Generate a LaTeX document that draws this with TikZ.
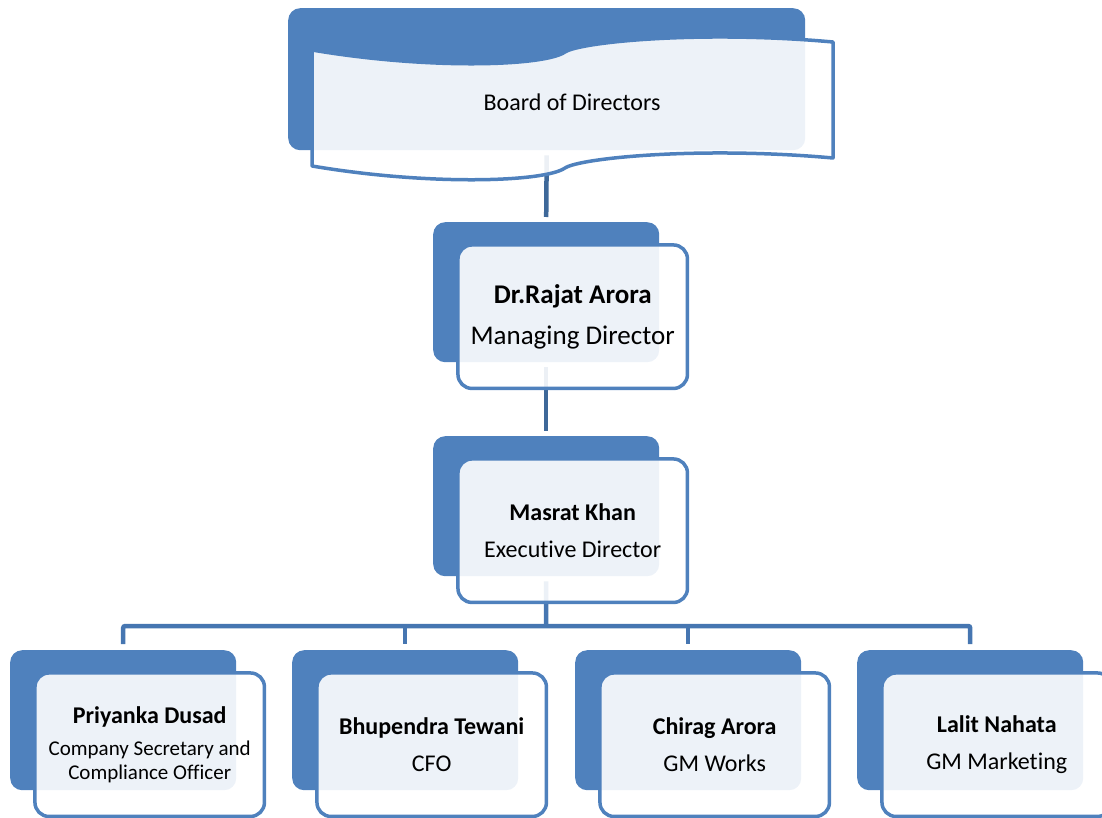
\documentclass[tikz,border=0pt]{standalone}
\usepackage{fontspec}
\setmainfont{Carlito}[Ligatures=CommonOff]
\newcommand{\nolig}{\kern0pt }
\definecolor{acc}{HTML}{4F81BD}
\definecolor{connA}{HTML}{3E6899}
\definecolor{connB}{HTML}{4676B1}
\tikzset{
  backbox/.style={rectangle, rounded corners=12pt, fill=acc, draw=none,
    minimum width=226pt, minimum height=140pt, inner sep=0pt, anchor=north west},
  frontbox/.style={rectangle, rounded corners=14pt, draw=acc, line width=3.5pt,
    fill=white, fill opacity=0.9, text opacity=1, text=black, align=center,
    minimum width=229.5pt, minimum height=143.5pt, inner sep=0pt},
  connv/.style={draw=connA, line width=4.5pt},
  connh/.style={draw=connB, line width=4.5pt},
  bigtxt/.style={font=\fontsize{27}{31}\selectfont},
  midtxt/.style={font=\fontsize{24}{28}\selectfont},
  smalltxt/.style={font=\fontsize{21}{24}\selectfont},
}
\begin{document}
\begin{tikzpicture}[x=1pt,y=-1pt]
\useasboundingbox (0,0) rectangle (1102,818);
\clip (0,0) rectangle (1102,818);
% back boxes
\node[backbox, minimum width=517pt, minimum height=142pt] (bodB) at (288,8) {};
\node[backbox] (mdB) at (433,222) {};
\node[backbox] (mkB) at (433,436) {};
\node[backbox] (n1B) at (10,650) {};
\node[backbox] (n2B) at (292,650) {};
\node[backbox] (n3B) at (575,650) {};
\node[backbox] (n4B) at (857,650) {};
% connectors
\coordinate (bus) at (546,626);
\draw[connv] ([yshift=-5pt]bodB.south) -- ([yshift=5pt]mdB.north);
\draw[connv] ([yshift=-5pt]mdB.south) -- ([yshift=5pt]mkB.north);
\draw[connh] ([yshift=-5pt]mkB.south) -- (bus);
\draw[connh, rounded corners=2pt] ([yshift=6pt]n1B.north) -- (n1B.north |- bus) -- (n4B.north |- bus) -- ([yshift=6pt]n4B.north);
\draw[connh] (n2B.north |- bus) -- ([yshift=6pt]n2B.north);
\draw[connh] (n3B.north |- bus) -- ([yshift=6pt]n3B.north);
% wave banner
\path[draw=acc, line width=3.5pt, fill=white, fill opacity=0.9, line join=round]
  (312,50) .. controls (430,70) and (545,66) .. (565,52)
  .. controls (580,42) and (700,30) .. (833,42)
  -- (833,158)
  .. controls (700,146) and (580,158) .. (565,168)
  .. controls (545,182) and (430,186) .. (312,166) -- cycle;
\node[midtxt] (bod) at (572,102) {Board of Directors};
% front boxes
\node[frontbox, bigtxt] (md) at ([xshift=26.5pt,yshift=-24.5pt]mdB.center)
  {\textbf{Dr.Rajat Arora}\\[10pt]Managing Director};
\node[frontbox, midtxt] (mk) at ([xshift=26.5pt,yshift=-24.5pt]mkB.center)
  {\textbf{Masrat Khan}\\[9pt]Execut\nolig ive Director};
\node[frontbox, smalltxt] (n1) at ([xshift=26.5pt,yshift=-24.5pt]n1B.center)
  {{\fontsize{24}{28}\selectfont\textbf{Priyanka Dusad}}\\[8pt]Company Secretary and\\Compliance Officer};
\node[frontbox, midtxt] (n2) at ([xshift=26.5pt,yshift=-24.5pt]n2B.center)
  {\textbf{Bhupendra Tewani}\\[9pt]CFO};
\node[frontbox, midtxt] (n3) at ([xshift=26.5pt,yshift=-24.5pt]n3B.center)
  {\textbf{Chirag Arora}\\[9pt]GM Works};
\node[frontbox, midtxt] (n4) at ([xshift=26.5pt,yshift=-24.5pt]n4B.center)
  {\textbf{Lalit Nahata}\\[9pt]GM Market\nolig ing};
\end{tikzpicture}
\end{document}
